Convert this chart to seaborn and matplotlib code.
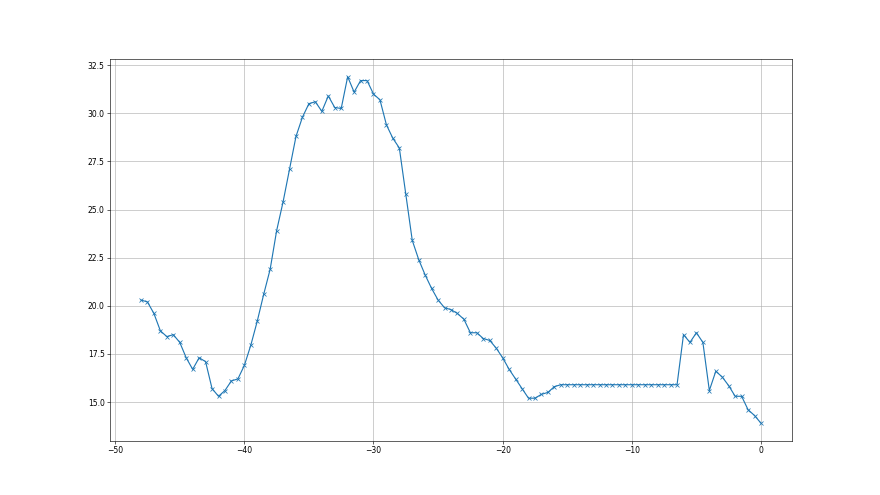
import numpy as np
import pandas as pd
import matplotlib
matplotlib.use('Agg')
import matplotlib.pyplot as plt
import seaborn as sns

x_vals = [-48.0, -47.5, -47.0, -46.5, -46.0, -45.5, -45.0, -44.5, -44.0, -43.5,
          -43.0, -42.5, -42.0, -41.5, -41.0, -40.5, -40.0, -39.5, -39.0, -38.5,
          -38.0, -37.5, -37.0, -36.5, -36.0, -35.5, -35.0, -34.5, -34.0, -33.5,
          -33.0, -32.5, -32.0, -31.5, -31.0, -30.5, -30.0, -29.5, -29.0, -28.5,
          -28.0, -27.5, -27.0, -26.5, -26.0, -25.5, -25.0, -24.5, -24.0, -23.5,
          -23.0, -22.5, -22.0, -21.5, -21.0, -20.5, -20.0, -19.5, -19.0, -18.5,
          -18.0, -17.5, -17.0, -16.5, -16.0, -15.5, -15.0, -14.5, -14.0, -13.5,
          -13.0, -12.5, -12.0, -11.5, -11.0, -10.5, -10.0, -9.5, -9.0, -8.5,
          -8.0, -7.5, -7.0, -6.5, -6.0, -5.5, -5.0, -4.5, -4.0, -3.5,
          -3.0, -2.5, -2.0, -1.5, -1.0, -0.5, 0.0]

y_vals = [20.3, 20.2, 19.6, 18.7, 18.4, 18.5, 18.1, 17.3, 16.7, 17.3,
          17.1, 15.7, 15.3, 15.6, 16.1, 16.2, 16.9, 17.95, 19.2, 20.6,
          21.9, 23.9, 25.4, 27.1, 28.8, 29.8, 30.5, 30.6, 30.1, 30.9,
          30.3, 30.25, 31.9, 31.1, 31.7, 31.7, 31.0, 30.7, 29.4, 28.7,
          28.2, 25.8, 23.4, 22.4, 21.6, 20.9, 20.3, 19.9, 19.8, 19.6,
          19.3, 18.6, 18.6, 18.3, 18.2, 17.8, 17.3, 16.7, 16.2, 15.7,
          15.2, 15.2, 15.4, 15.5, 15.8, 15.9, 15.9, 15.9, 15.9, 15.9,
          15.9, 15.9, 15.9, 15.9, 15.9, 15.9, 15.9, 15.9, 15.9, 15.9,
          15.9, 15.9, 15.9, 15.9, 18.5, 18.1, 18.6, 18.1, 15.6, 16.6,
          16.3, 15.85, 15.3, 15.3, 14.6, 14.3, 13.9]

df = pd.DataFrame({'x': x_vals, 'y': y_vals})

plt.figure(figsize=(16, 9), dpi=55)
ax = sns.lineplot(data=df, x='x', y='y', marker='x', color='#1f77b4',
                  markeredgecolor='#1f77b4', markersize=6, markeredgewidth=1)
ax.grid(True)
ax.set_xlabel('')
ax.set_ylabel('')
plt.savefig('out.png', dpi=55)
